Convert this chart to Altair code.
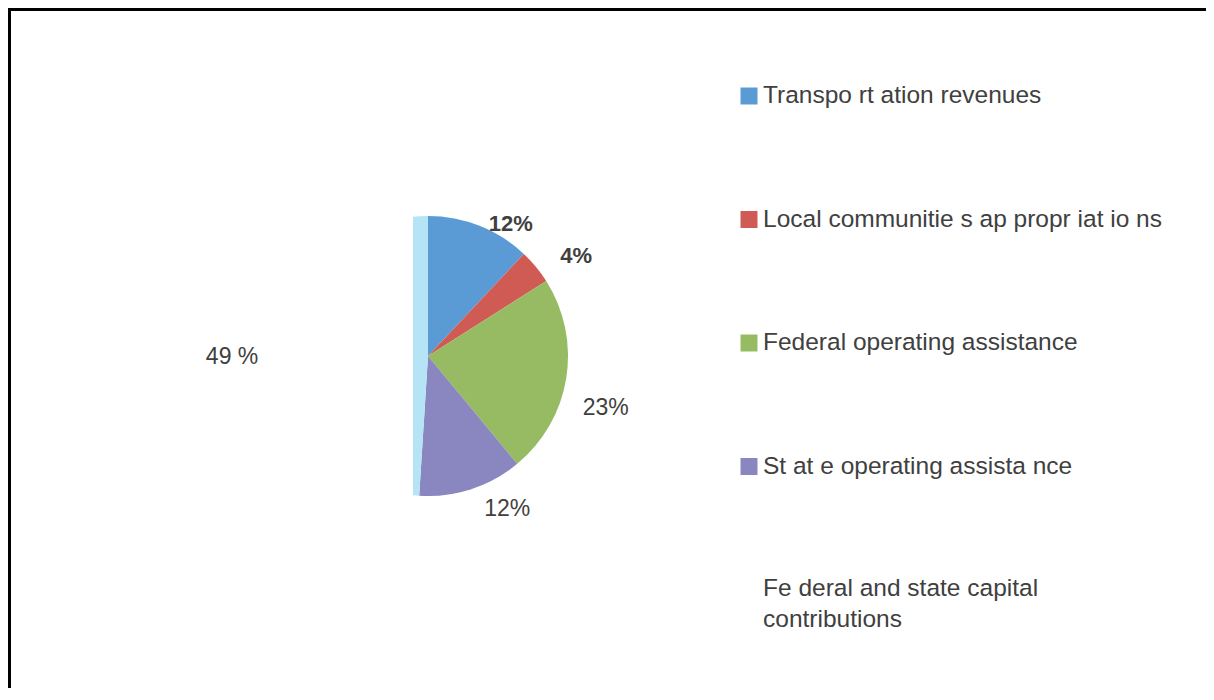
import altair as alt
import pandas as pd

# ---- data ----
categories = [
    "Transpo rt ation revenues",
    "Local communitie s ap propr iat io ns",
    "Federal operating assistance",
    "St at e operating assista nce",
    "Fe deral and state capital contributions",
]
legend_labels = [
    "Transpo rt ation revenues",
    "Local communitie s ap propr iat io ns",
    "Federal operating assistance",
    "St at e operating assista nce",
    "Fe deral and state capital\ncontributions",
]
values = [12, 4, 23, 12, 49]
pct_labels = ["12%", "4%", "23%", "12%", "49 %"]
colors = ["#5b9bd5", "#d05b55", "#97bb63", "#8a86c0", "#b4e4f5"]

df = pd.DataFrame({
    "cat": categories,
    "legend": legend_labels,
    "value": values,
    "pct": pct_labels,
    "idx": list(range(len(categories))),
})

# ---- layout / style (not data) ----
PAD_LEFT = 405          # plot area starts where the pie is cut off
W, H = 793, 680
CX, CY, R = 15, 348, 140
FONT = "Liberation Sans"
TXT = "#404040"
# label style per slice: (radius, dx, dy, weight, size)
label_style = [
    (165, 22, 21, "bold", 22),
    (165, 21, 5, "bold", 22),
    (185, -5, 23, "normal", 23),
    (185, 22, -23, "normal", 23),
    (185, -11, 7, "normal", 23),
]

base = alt.Chart(df)
color = alt.Color("cat:N", scale=alt.Scale(domain=categories, range=colors), legend=None)
theta = alt.Theta("value:Q", stack=True)
order = alt.Order("idx:Q", sort="ascending")
ly = alt.Y("idx:Q", scale=alt.Scale(domain=[0, 4], range=[88, 582], nice=False, zero=False), axis=None)

arc = base.mark_arc(clip=True, radius=R).encode(
    theta=theta, color=color, order=order,
    x=alt.value(CX), y=alt.value(CY),
)

label_layers = []
for i, (rad, dx, dy, wt, fs) in enumerate(label_style):
    label_layers.append(
        base.transform_calculate(t=f"datum.idx == {i} ? datum.pct : ''").mark_text(
            radius=rad, fontSize=fs, fontWeight=wt, font=FONT, color=TXT, dx=dx, dy=dy
        ).encode(theta=theta, order=order, text="t:N", x=alt.value(CX), y=alt.value(CY))
    )

squares = base.transform_filter("datum.idx < 4").mark_square(size=289, opacity=1).encode(
    x=alt.value(336), y=ly, color=color,
)

leg_text = base.transform_filter("datum.idx < 4").mark_text(
    align="left", baseline="middle", fontSize=24.5, font=FONT, color=TXT
).encode(x=alt.value(350), y=ly, text="legend:N")

leg_last = base.transform_filter("datum.idx == 4").mark_text(
    align="left", baseline="top", fontSize=24.5, font=FONT, color=TXT,
    lineBreak="\n", lineHeight=31, dy=-13
).encode(x=alt.value(350), y=ly, text="legend:N")

top_rule = base.transform_filter("datum.idx == 0").mark_rule(color="black", strokeWidth=3).encode(
    x=alt.value(-PAD_LEFT), x2=alt.value(W), y=alt.value(1.5),
)
left_rule = base.transform_filter("datum.idx == 0").mark_rule(color="black", strokeWidth=3).encode(
    x=alt.value(-PAD_LEFT + 1.5), y=alt.value(0), y2=alt.value(H),
)

chart = alt.layer(
    arc, *label_layers, squares, leg_text, leg_last, top_rule, left_rule
).properties(
    width=W, height=H,
    background="white",
    autosize=alt.AutoSizeParams(type="none"),
    padding={"left": PAD_LEFT, "top": 0, "right": 0, "bottom": 0},
).configure_view(strokeWidth=0, strokeOpacity=0)

chart.save("out.html", embed_options={"renderer": "svg", "actions": False})
